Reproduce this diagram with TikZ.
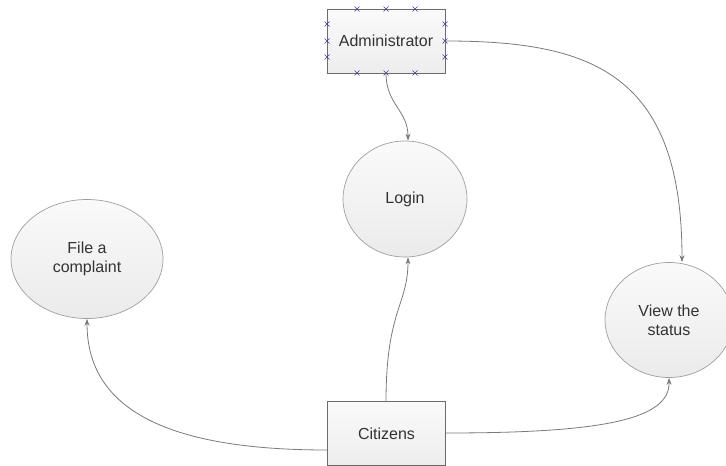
\documentclass[tikz,border=0pt]{standalone}
\usepackage{fontspec}
\setmainfont{Liberation Sans}
\usetikzlibrary{shapes.geometric,arrows.meta}
\definecolor{linegray}{HTML}{7A7A7A}
\definecolor{edgegray}{HTML}{6A6A6A}
\definecolor{txt}{HTML}{333333}
\definecolor{handle}{HTML}{3A3AA0}
\tikzset{
  entity/.style={draw=edgegray, line width=0.8pt, rectangle, minimum width=118pt, minimum height=64pt,
    top color=gray!4, bottom color=gray!14, text=txt, font=\fontsize{16}{19}\selectfont, inner sep=0pt},
  process/.style={draw=gray!75, line width=0.7pt, ellipse, inner sep=0pt,
    top color=gray!4, bottom color=gray!16, text=txt, font=\fontsize{16}{19}\selectfont, align=center},
  flow/.style={draw=linegray, line width=0.8pt, -{Stealth[length=7pt,width=5pt]}},
  handlemark/.style={draw=handle, line width=0.6pt}
}
\newcommand{\hmark}[2]{\draw[handlemark] (#1-2.5,#2-2.5) -- (#1+2.5,#2+2.5) (#1-2.5,#2+2.5) -- (#1+2.5,#2-2.5);}
\begin{document}
\begin{tikzpicture}[x=1pt,y=-1pt]
\useasboundingbox (0,0) rectangle (726,466);
\node[entity] (admin) at (386,41) {Administrator};
\node[entity] (cit) at (386.5,433.5) {Citizens};
\node[process, minimum width=124pt, minimum height=116pt] (login) at (405,199) {Login};
\node[process, minimum width=152pt, minimum height=119pt] (file) at (87,259) {File a\\complaint};
\node[process, minimum width=128pt, minimum height=115pt] (view) at (669,320) {View the\\status};
% handles
\foreach \x in {357,386,415} { \hmark{\x}{9} \hmark{\x}{73} }
\foreach \y in {24,41,57} { \hmark{327}{\y} \hmark{445}{\y} }
% connectors
\coordinate (a1) at (386,73);
\draw[flow] (a1) .. controls (386,105) and (408,110) .. (login.north -| 408,0);
\coordinate (a2) at (445,41);
\draw[flow] (a2) .. controls (590,41) and (682,72) .. (view.north -| 682,0);
\coordinate (c1) at (386,402);
\draw[flow] (c1) .. controls (386,310) and (408,305) .. (login.south -| 408,0);
\coordinate (c2) at (327,450);
\draw[flow] (c2) .. controls (150,450) and (87,400) .. (file.south);
\coordinate (c3) at (446,433);
\draw[flow] (c3) .. controls (600,433) and (670,420) .. (view.south);
\end{tikzpicture}
\end{document}
